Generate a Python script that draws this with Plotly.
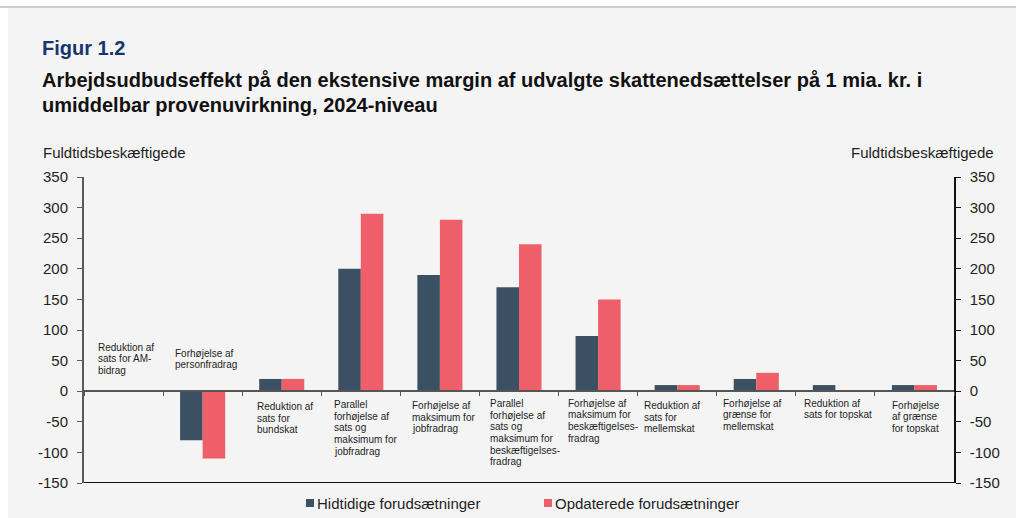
import plotly.graph_objects as go

# ---- data -------------------------------------------------------------
categories = [
    "Reduktion af sats for AM-bidrag",
    "Forhøjelse af personfradrag",
    "Reduktion af sats for bundskat",
    "Parallel forhøjelse af sats og maksimum for jobfradrag",
    "Forhøjelse af maksimum for jobfradrag",
    "Parallel forhøjelse af sats og maksimum for beskæftigelsesfradrag",
    "Forhøjelse af maksimum for beskæftigelsesfradrag",
    "Reduktion af sats for mellemskat",
    "Forhøjelse af grænse for mellemskat",
    "Reduktion af sats for topskat",
    "Forhøjelse af grænse for topskat",
]
category_lines = [
    ["Reduktion af", "sats for AM-", "bidrag"],
    ["Forhøjelse af", "personfradrag"],
    ["Reduktion af", "sats for", "bundskat"],
    ["Parallel", "forhøjelse af", "sats og", "maksimum for", "jobfradrag"],
    ["Forhøjelse af", "maksimum for", "jobfradrag"],
    ["Parallel", "forhøjelse af", "sats og", "maksimum for", "beskæftigelses-", "fradrag"],
    ["Forhøjelse af", "maksimum for", "beskæftigelses-", "fradrag"],
    ["Reduktion af", "sats for", "mellemskat"],
    ["Forhøjelse af", "grænse for", "mellemskat"],
    ["Reduktion af", "sats for topskat"],
    ["Forhøjelse", "af grænse", "for topskat"],
]
hidtidige = [0, -80, 20, 200, 190, 170, 90, 10, 20, 10, 10]
opdaterede = [0, -110, 20, 290, 280, 240, 150, 10, 30, 0, 10]
y_ticks = [-150, -100, -50, 0, 50, 100, 150, 200, 250, 300, 350]
y_tick_text = ["-150", "-100", "-50", "0", "50", "100", "150", "200", "250", "300", "350"]

series_names = ["Hidtidige forudsætninger", "Opdaterede forudsætninger"]
title_text = "Figur 1.2"
subtitle_lines = [
    "Arbejdsudbudseffekt på den ekstensive margin af udvalgte skattenedsættelser på 1 mia. kr. i",
    "umiddelbar provenuvirkning, 2024-niveau",
]
axis_title = "Fuldtidsbeskæftigede"

# ---- layout constants ---------------------------------------------------
W, H = 1016, 518
L, R, T, B = 84, 62, 177, 35
FONT = "Liberation Sans, Arial, sans-serif"
DARK = "#3b5163"
RED = "#ef5f6a"
BG = "#f4f4f4"
TXT = "#1e1e1e"

# category label placement: left edge relative to category centre (px),
# first line centre relative to the zero line (px, positive = up)
label_dx = [-26.5, -28.6, -26.1, -28.2, -29.3, -29.8, -30.9, -34.0, -34.7, -32.2, -23.6]
label_dy = [43.9, 37.9, -15.5, -13.5, -14.5, -12.5, -12.0, -14.5, -12.0, -12.0, -14.0]
LINE_STEP = 11.6

pw, ph = W - L - R, H - T - B


def px_x(px):
    return (px - L) / pw


def px_y(py):
    return (H - B - py) / ph


fig = go.Figure()
x_idx = list(range(len(categories)))
fig.add_trace(go.Bar(x=x_idx, y=hidtidige, name=series_names[0],
                     marker=dict(color=DARK, line=dict(width=0))))
fig.add_trace(go.Bar(x=x_idx, y=opdaterede, name=series_names[1],
                     marker=dict(color=RED, line=dict(width=0))))
# empty trace so the secondary (right-hand) value axis is drawn
fig.add_trace(go.Scatter(x=[None], y=[None], yaxis="y2", mode="markers",
                         showlegend=False, hoverinfo="skip"))

ymin, ymax = y_ticks[0], y_ticks[-1]

annotations = []
# category labels, one annotation per wrapped line
for i, lines in enumerate(category_lines):
    for k, line in enumerate(lines):
        annotations.append(dict(
            x=i, y=0, xref="x", yref="y", text=line, showarrow=False,
            xanchor="left", yanchor="middle",
            xshift=label_dx[i] - 1, yshift=label_dy[i] - k * LINE_STEP,
            font=dict(family=FONT, size=10, color=TXT),
        ))

# titles
annotations.append(dict(x=px_x(40), y=px_y(48), xref="paper", yref="paper",
                        text=f"<b>{title_text}</b>", showarrow=False,
                        xanchor="left", yanchor="middle",
                        font=dict(family=FONT, size=20, color="#17366e")))
for k, line in enumerate(subtitle_lines):
    annotations.append(dict(x=px_x(40), y=px_y(80 + 25 * k), xref="paper", yref="paper",
                            text=f"<b>{line}</b>", showarrow=False,
                            xanchor="left", yanchor="middle",
                            font=dict(family=FONT, size=20, color="#111111")))

# axis titles
annotations.append(dict(x=px_x(41), y=px_y(152), xref="paper", yref="paper",
                        text=axis_title, showarrow=False, xanchor="left", yanchor="middle",
                        font=dict(family=FONT, size=15, color=TXT)))
annotations.append(dict(x=px_x(996), y=px_y(152), xref="paper", yref="paper",
                        text=axis_title, showarrow=False, xanchor="right", yanchor="middle",
                        font=dict(family=FONT, size=15, color=TXT)))

# legend
legend_items = [(310, series_names[0], DARK), (548, series_names[1], RED)]
shapes = []
for cx, name, col in legend_items:
    shapes.append(dict(type="rect", xref="paper", yref="paper",
                       x0=px_x(cx - 4), x1=px_x(cx + 4), y0=px_y(507), y1=px_y(499),
                       fillcolor=col, line=dict(width=0)))
    annotations.append(dict(x=px_x(cx + 5), y=px_y(503), xref="paper", yref="paper",
                            text=name, showarrow=False, xanchor="left", yanchor="middle",
                            font=dict(family=FONT, size=15, color=TXT)))

# frame: white margin strip, top rule, bottom axis line
shapes.append(dict(type="rect", xref="paper", yref="paper",
                   x0=px_x(0), x1=px_x(8), y0=px_y(H), y1=px_y(0),
                   fillcolor="white", line=dict(width=0)))
shapes.append(dict(type="rect", xref="paper", yref="paper",
                   x0=px_x(0), x1=px_x(W), y0=px_y(8), y1=px_y(0),
                   fillcolor="white", line=dict(width=0)))
shapes.append(dict(type="line", xref="paper", yref="paper",
                   x0=px_x(0), x1=px_x(W), y0=px_y(7), y1=px_y(7),
                   line=dict(color="#bcbcbc", width=1.5)))
shapes.append(dict(type="line", xref="paper", yref="y",
                   x0=0, x1=1, y0=ymin, y1=ymin,
                   line=dict(color="#111111", width=2)))

zero_pos = (0 - ymin) / (ymax - ymin)

axis_common = dict(
    range=[ymin, ymax], tickvals=y_ticks, ticktext=y_tick_text,
    showline=True, ticks="outside", ticklen=5,
    tickfont=dict(family=FONT, size=15, color=TXT),
    showgrid=False, zeroline=False, ticklabelstandoff=6,
)

fig.update_layout(
    width=W, height=H,
    margin=dict(l=L, r=R, t=T, b=B, pad=0),
    paper_bgcolor=BG, plot_bgcolor=BG,
    barmode="group", bargap=0.43, bargroupgap=0,
    showlegend=False,
    font=dict(family=FONT, color=TXT),
    xaxis=dict(
        type="linear", range=[-0.5, len(categories) - 0.5],
        anchor="free", position=zero_pos,
        showline=True, linecolor="#555555", linewidth=2,
        tickvals=[i - 0.5 for i in range(len(categories) + 1)],
        ticks="outside", ticklen=4, tickcolor="#555555", tickwidth=1,
        showticklabels=False, showgrid=False, zeroline=False,
    ),
    yaxis=dict(**axis_common, linecolor="#5a5a5a", linewidth=2, tickcolor="#5a5a5a"),
    yaxis2=dict(**axis_common, overlaying="y", side="right",
                linecolor="#111111", linewidth=1.5, tickcolor="#111111"),
    annotations=annotations,
    shapes=shapes,
)

fig.write_html("out.html")
